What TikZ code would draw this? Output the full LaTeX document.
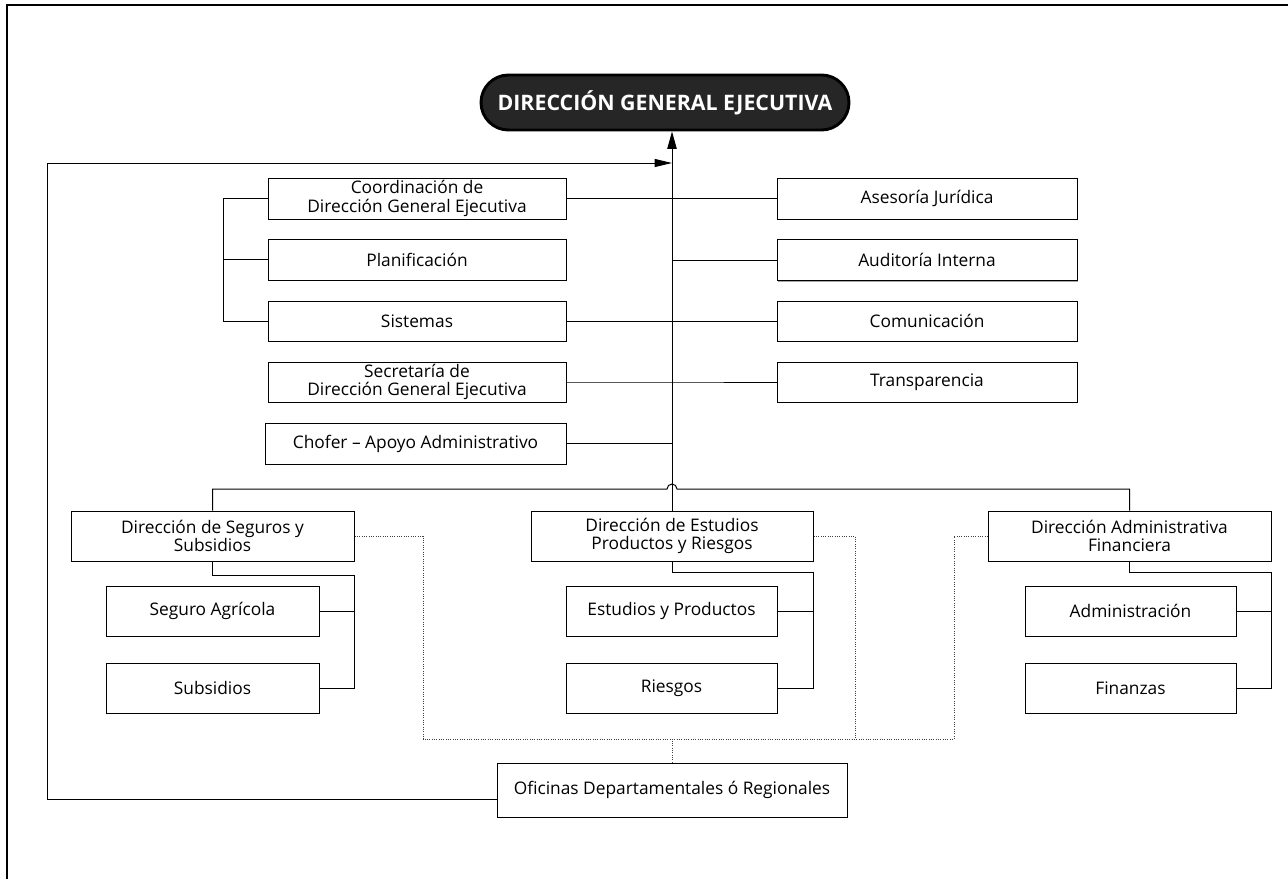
\documentclass[tikz,border=0pt]{standalone}
\usepackage{fontspec}
\setmainfont{Open Sans}
\usetikzlibrary{arrows.meta,shapes.misc,shadows}

\tikzset{
  unit/.style={x=0.75pt,y=-0.75pt},
  orgbox/.style 2 args={draw=black, line width=0.75pt, fill=white, align=center,
    minimum width={#1*0.75pt}, minimum height={#2*0.75pt}, inner sep=0pt,
    font=\fontsize{13}{14}\selectfont,
    general shadow={shadow xshift=0.8pt, shadow yshift=-0.8pt, fill=black!35}},
  headbox/.style={rounded rectangle, draw=black, line width=2.2pt, fill=black!85,
    text=white, font=\fontsize{16}{18}\selectfont\bfseries,
    minimum width={368*0.75pt}, minimum height={55*0.75pt}, inner sep=0pt},
  link/.style={line width=0.75pt, black},
  dotlink/.style={line width=0.75pt, black!75, densely dotted},
  frame/.style={line width=1.8pt, black},
}

\begin{document}
\begin{tikzpicture}[unit]
\useasboundingbox (0,0) rectangle (1288,879);

% page frame
\draw[frame] (7,879) -- (7,5) -- (1288,5);

% head of the organisation
\node[headbox] (top) at (665,102.5) {DIRECCIÓN GENERAL EJECUTIVA};

% staff units, left column
\node[orgbox={298}{41}] (coord) at (417,198.5) {Coordinación de\\Dirección General Ejecutiva};
\node[orgbox={298}{41}] (plan)  at (417,259.5) {Planificación};
\node[orgbox={298}{40}] (sist)  at (417,321)   {Sistemas};
\node[orgbox={298}{40}] (secr)  at (417,382)   {Secretaría de\\Dirección General Ejecutiva};
\node[orgbox={301}{41}] (chof)  at (415.5,443.5) {Chofer – Apoyo Administrativo};

% staff units, right column
\node[orgbox={300}{41}] (ases) at (927,198.5) {Asesoría Jurídica};
\node[orgbox={300}{41}] (audi) at (927,260)   {Auditoría Interna};
\node[orgbox={300}{40}] (comu) at (927,321)   {Comunicación};
\node[orgbox={300}{40}] (tran) at (927,382)   {Transparencia};

% line directorates
\node[orgbox={283}{50}] (seg) at (212.5,536) {Dirección de Seguros y\\Subsidios};
\node[orgbox={282}{50}] (est) at (672,536)   {Dirección de Estudios\\Productos y Riesgos};
\node[orgbox={283}{50}] (adm) at (1129.5,536) {Dirección Administrativa\\Financiera};

% units under each directorate
\node[orgbox={213}{50}] (segagr) at (212.5,611) {Seguro Agrícola};
\node[orgbox={213}{50}] (subs)   at (212.5,688) {Subsidios};
\node[orgbox={211}{50}] (estprod) at (671.5,611) {Estudios y Productos};
\node[orgbox={211}{50}] (ries)    at (671.5,688) {Riesgos};
\node[orgbox={211}{50}] (admn) at (1130.5,611) {Administración};
\node[orgbox={211}{50}] (fin)  at (1130.5,688) {Finanzas};

% regional offices
\node[orgbox={350}{54}] (ofi) at (672,790) {Oficinas Departamentales ó Regionales};

% main trunk up to the head
\draw[link, -{Triangle[length=13pt,width=7pt]}] (est.north) -- (est.north |- top.south);

% regional offices report straight to the head
\draw[link, -{Triangle[length=13pt,width=6pt]}]
  (ofi.west |- 0,799) -- (47,799) -- (47,163) -- (est.north |- 0,163);

% staff connections
\draw[link] (coord.east) -- (ases.west);
\draw[link] (audi.west) -- (audi.west -| est.north);
\draw[link] (sist.east) -- (comu.west);
\draw[link] (secr.east) -- (secr.east -| est.north) -- (tran.west);
\draw[link] (chof.east) -- (chof.east -| est.north);

% bracket joining coordination, planning and systems
\draw[link] (coord.west) -- ++(-44,0) |- (sist.west);
\draw[link] (plan.west) -- ++(-44,0);

% bus to the directorates, hopping over the trunk
\draw[link] (seg.north) -- (seg.north |- 0,489) -- (667,489)
  arc[start angle=180, end angle=0, radius=3.75pt]
  -- (adm.north |- 0,489) -- (adm.north);

% directorate sub-units
\draw[link] (seg.south) -- ++(0,14) -| (subs.east -| seg.east) -- (subs.east);
\draw[link] (segagr.east) -- (segagr.east -| seg.east);
\draw[link] (est.south) -- ++(0,11) -| (ries.east -| est.east) -- (ries.east);
\draw[link] (estprod.east) -- (estprod.east -| est.east);
\draw[link] (adm.south) -- ++(0,11) -| (fin.east -| adm.east) -- (fin.east);
\draw[link] (admn.east) -- (admn.east -| adm.east);

% dotted links between directorates and regional offices
\coordinate (dl) at (423,739);
\coordinate (dm) at (855,739);
\coordinate (dr) at (954,739);
\draw[dotlink] (seg.east) -| (dl) -- (dr) |- (adm.west);
\draw[dotlink] (est.east) -| (dm);
\draw[dotlink] (ofi.north) -- (ofi.north |- dl);

\end{tikzpicture}
\end{document}
